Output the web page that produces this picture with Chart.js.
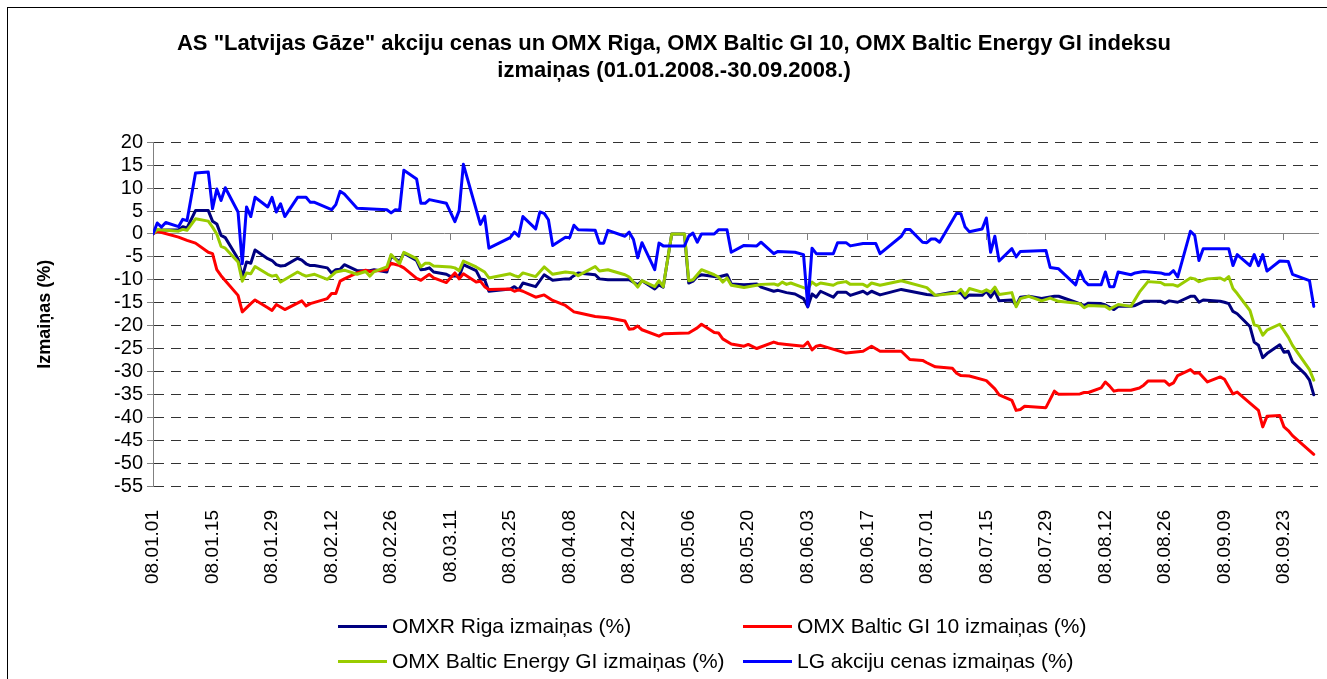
<!DOCTYPE html>
<html>
<head>
<meta charset="utf-8">
<script src="https://cdn.jsdelivr.net/npm/chart.js@4.4.1/dist/chart.umd.min.js"></script>
<style>
  html, body { margin: 0; padding: 0; background: #fff; }
  #wrap { position: relative; width: 1327px; height: 679px; overflow: hidden; font-family: "Liberation Sans", Arial, sans-serif; }
  #frame { position: absolute; left: 7px; top: 7px; width: 1500px; height: 900px; border: 1px solid #000; box-sizing: border-box; }
  #c { position: absolute; left: 0; top: 0; }
  .lg-item { position: absolute; height: 28px; display: flex; align-items: center; font-size: 21px; color: #000; white-space: nowrap; }
  .lg-line { display: inline-block; width: 49px; height: 3px; margin-right: 5px; }
</style>
</head>
<body>
<div id="wrap">
  <div id="frame"></div>
  <canvas id="c" width="1327" height="679"></canvas>
  <div id="legend"></div>
</div>
<script>
// ---- data (x = day offset from 2008-01-01, y = change in %) ----
const tickLabels = ['08.01.01','08.01.15','08.01.29','08.02.12','08.02.26','08.03.11','08.03.25','08.04.08','08.04.22','08.05.06','08.05.20','08.06.03','08.06.17','08.07.01','08.07.15','08.07.29','08.08.12','08.08.26','08.09.09','08.09.23'];
const tickStepDays = 14;
const titleLines = ['AS "Latvijas Gāze" akciju cenas un OMX Riga, OMX Baltic GI 10, OMX Baltic Energy GI indeksu', 'izmaiņas (01.01.2008.-30.09.2008.)'];
const seriesNames = ['OMXR Riga izmaiņas (%)', 'OMX Baltic GI 10 izmaiņas (%)', 'OMX Baltic Energy GI izmaiņas (%)', 'LG akciju cenas izmaiņas (%)'];

const rigaSeries = [[0,0],[1,0.8],[6,0.9],[7,1.6],[8,1.3],[10,5.1],[13,5.1],[14,2.8],[15,2.2],[16,-0.3],[17,-0.8],[20,-5.4],[21,-9.4],[22,-6.1],[23,-6.4],[24,-3.5],[27,-5.4],[28,-5.8],[29,-6.7],[30,-7.0],[31,-6.9],[34,-5.3],[35,-5.7],[36,-6.5],[37,-6.9],[38,-6.9],[41,-7.4],[42,-8.5],[43,-7.8],[44,-7.7],[45,-6.7],[48,-8.0],[51,-8.0],[52,-7.8],[55,-8.3],[56,-4.8],[58,-6.0],[59,-4.2],[62,-5.8],[63,-7.8],[64,-7.7],[65,-7.4],[66,-8.3],[69,-8.8],[70,-9.3],[71,-9.1],[72,-9.3],[73,-6.7],[76,-8.0],[77,-9.8],[78,-10.0],[79,-12.5],[84,-12.0],[85,-11.5],[86,-12.2],[87,-10.7],[90,-11.5],[92,-8.9],[94,-10.1],[97,-9.8],[98,-9.8],[99,-9.1],[100,-8.5],[104,-8.9],[105,-9.8],[107,-10.0],[112,-10.0],[114,-11.1],[115,-10.2],[118,-12.0],[119,-11.1],[120,-11.6],[122,0],[125,0],[126,-10.7],[127,-10.3],[128,-9.3],[129,-8.9],[132,-9.3],[133,-9.4],[135,-8.9],[136,-10.9],[139,-11.1],[142,-10.9],[143,-11.6],[146,-12.5],[147,-12.3],[149,-12.8],[151,-13.1],[153,-14.1],[154,-15.9],[155,-13.1],[156,-13.8],[157,-12.5],[160,-13.8],[161,-12.7],[163,-12.7],[164,-13.4],[167,-12.5],[168,-13.1],[169,-12.5],[171,-13.3],[176,-12.1],[182,-13.2],[184,-13.4],[188,-12.7],[190,-12.9],[191,-14.0],[192,-13.3],[195,-13.4],[196,-12.5],[197,-13.8],[198,-12.5],[199,-14.6],[202,-14.4],[203,-15.6],[204,-13.8],[206,-13.6],[209,-14.1],[212,-13.6],[213,-13.6],[217,-14.9],[219,-15.6],[220,-15.1],[223,-15.2],[224,-15.5],[226,-16.5],[227,-15.8],[230,-15.8],[231,-15.6],[233,-14.7],[237,-14.7],[238,-15.1],[239,-14.6],[241,-14.9],[244,-13.6],[245,-13.6],[246,-14.9],[247,-14.4],[251,-14.7],[252,-14.9],[253,-15.2],[254,-16.9],[255,-17.4],[258,-20.2],[259,-23.6],[260,-24.3],[261,-27.0],[262,-26.1],[265,-24.2],[266,-25.8],[267,-25.6],[268,-27.9],[271,-30.6],[272,-31.9],[273,-35.1]];

const gi10Series = [[0,0],[1,0.6],[6,-0.7],[8,-1.4],[10,-2.0],[13,-4.0],[14,-4.3],[15,-7.8],[16,-9.1],[20,-13.4],[21,-17.0],[23,-15.2],[24,-14.4],[27,-16.1],[28,-16.7],[29,-15.4],[31,-16.5],[35,-14.6],[36,-15.7],[37,-15.2],[41,-14.1],[42,-13.0],[43,-13.0],[44,-10.3],[45,-9.8],[48,-8.5],[50,-7.9],[51,-8.2],[55,-7.8],[56,-6.4],[58,-6.9],[59,-7.4],[62,-9.7],[63,-10.1],[65,-8.8],[66,-9.6],[69,-10.6],[71,-8.5],[72,-9.8],[73,-8.7],[76,-10.5],[77,-10.3],[78,-11.5],[79,-12.1],[84,-12.0],[85,-12.5],[86,-12.2],[87,-12.5],[90,-13.8],[92,-13.3],[94,-14.5],[97,-15.6],[98,-16.3],[99,-17.0],[100,-17.2],[104,-18.0],[107,-18.3],[111,-19.0],[112,-20.8],[113,-20.7],[114,-20.1],[115,-20.9],[119,-22.3],[120,-21.8],[126,-21.6],[128,-20.5],[129,-19.7],[132,-21.5],[133,-21.6],[134,-22.9],[136,-24.0],[139,-24.5],[140,-24.1],[142,-25.0],[146,-23.6],[147,-23.9],[149,-24.1],[153,-24.5],[154,-23.6],[155,-25.3],[156,-24.5],[157,-24.3],[163,-26.0],[167,-25.6],[169,-24.5],[171,-25.6],[176,-25.6],[178,-27.4],[181,-27.6],[182,-28.1],[184,-29.0],[188,-29.3],[189,-30.4],[190,-30.9],[192,-31.0],[196,-32.0],[198,-33.8],[199,-35.1],[202,-36.3],[203,-38.5],[204,-38.3],[205,-37.6],[210,-37.9],[212,-34.3],[213,-35.0],[218,-34.9],[219,-34.6],[220,-34.6],[223,-33.6],[224,-32.3],[225,-33.2],[226,-34.3],[227,-34.1],[230,-34.1],[232,-33.6],[233,-33.0],[234,-32.1],[238,-32.1],[239,-33.0],[240,-32.5],[241,-30.9],[244,-29.6],[245,-30.4],[246,-30.3],[248,-32.3],[251,-31.2],[252,-31.7],[254,-34.9],[255,-34.5],[258,-36.9],[260,-38.5],[261,-42.1],[262,-39.8],[265,-39.6],[266,-42.1],[267,-42.9],[268,-44.0],[273,-48.1]];

const energySeries = [[0,0],[1,1.0],[6,0.6],[7,1.0],[8,0.8],[10,3.3],[13,2.8],[14,1.5],[15,0.0],[16,-2.7],[17,-3.1],[20,-6.1],[21,-10.3],[22,-8.5],[23,-8.7],[24,-7.1],[27,-8.8],[28,-9.2],[29,-9.0],[30,-10.5],[34,-8.3],[35,-8.8],[36,-9.2],[38,-8.8],[41,-9.9],[43,-8.3],[45,-7.9],[48,-8.8],[50,-8.2],[51,-9.2],[52,-8.2],[55,-7.2],[56,-4.5],[58,-6.5],[59,-4.0],[62,-5.4],[63,-7.2],[64,-6.4],[65,-6.4],[66,-7.0],[70,-7.2],[71,-7.4],[72,-8.0],[73,-5.9],[76,-7.2],[78,-8.3],[79,-9.6],[84,-8.7],[85,-9.1],[86,-9.4],[87,-8.5],[90,-9.3],[92,-7.2],[94,-8.8],[97,-8.3],[99,-8.5],[100,-9.1],[104,-7.1],[105,-8.1],[107,-7.8],[111,-8.9],[112,-9.4],[114,-11.6],[115,-10.2],[118,-11.5],[119,-10.2],[120,-11.5],[122,0],[125,0],[126,-10.2],[127,-10.0],[129,-7.8],[132,-8.9],[133,-9.4],[134,-10.5],[135,-9.6],[136,-11.2],[139,-11.7],[142,-11.2],[143,-11.0],[146,-10.9],[147,-11.2],[148,-10.5],[149,-11.0],[150,-10.7],[153,-11.7],[154,-12.0],[155,-10.5],[156,-11.2],[157,-10.7],[160,-11.2],[161,-10.7],[163,-10.4],[164,-11.0],[167,-11.0],[168,-11.5],[169,-10.7],[171,-11.2],[176,-10.2],[182,-11.7],[184,-13.4],[189,-12.9],[190,-12.1],[191,-13.4],[192,-11.9],[195,-12.7],[196,-12.2],[197,-12.7],[198,-11.6],[199,-13.2],[202,-12.8],[203,-15.9],[204,-14.1],[206,-13.6],[209,-14.6],[211,-14.0],[213,-14.7],[218,-15.2],[219,-16.1],[220,-15.6],[224,-15.8],[225,-16.4],[227,-15.4],[230,-15.8],[232,-12.7],[234,-10.4],[237,-10.6],[238,-11.1],[240,-11.1],[241,-11.4],[244,-9.6],[245,-9.8],[246,-10.4],[248,-9.8],[251,-9.6],[252,-10.1],[253,-9.3],[254,-11.9],[255,-13.0],[258,-16.7],[259,-19.8],[260,-20.1],[261,-22.1],[262,-21.0],[265,-19.7],[267,-22.5],[268,-24.3],[272,-29.6],[273,-31.9]];

const lgSeries = [[0,0],[1,2.4],[2,1.5],[3,2.5],[6,1.6],[7,3.2],[8,2.9],[10,13.3],[13,13.5],[14,5.5],[15,9.8],[16,7.3],[17,10.1],[20,4.8],[21,-6.5],[22,5.9],[23,3.8],[24,8.0],[27,5.9],[28,8.0],[29,4.8],[30,6.6],[31,3.8],[34,8.0],[36,8.0],[37,6.9],[38,6.9],[42,5.3],[43,6.4],[44,9.3],[45,8.7],[48,5.6],[55,5.3],[56,4.6],[57,5.3],[58,5.2],[59,13.9],[62,12.0],[63,6.7],[64,6.7],[65,7.5],[69,6.7],[71,2.7],[72,5.1],[73,15.2],[77,2.1],[78,3.9],[79,-3.1],[84,-0.8],[85,0.4],[86,-0.5],[87,3.8],[90,1.1],[91,4.8],[92,4.5],[93,3.1],[94,-2.5],[97,-0.7],[98,-0.8],[99,1.9],[100,0.9],[104,0.8],[105,-2.0],[106,-2.0],[107,0.8],[111,-0.5],[112,0.4],[113,-1.2],[114,-5.2],[115,-1.9],[118,-7.8],[119,-2.0],[120,-2.6],[125,-2.6],[126,-0.5],[127,0.2],[128,-1.8],[129,0.0],[132,0.0],[133,0.9],[135,0.9],[136,-4.0],[139,-2.5],[142,-2.6],[143,-1.8],[146,-4.3],[147,-3.8],[151,-4.0],[153,-4.5],[154,-15.8],[155,-3.1],[156,-4.3],[160,-4.3],[161,-1.9],[163,-1.9],[164,-2.6],[167,-2.1],[170,-2.1],[171,-4.3],[176,-0.5],[177,1.0],[178,1.0],[181,-1.8],[182,-1.9],[183,-1.1],[184,-1.1],[185,-1.8],[189,4.5],[190,4.4],[191,1.5],[192,0.5],[195,1.1],[196,3.5],[197,-4.0],[198,-0.5],[199,-5.9],[202,-3.2],[203,-5.0],[204,-3.8],[210,-3.6],[211,-7.3],[213,-7.6],[217,-11.1],[218,-8.1],[219,-10.2],[220,-11.1],[223,-11.1],[224,-8.3],[225,-11.5],[226,-11.5],[227,-8.3],[230,-8.9],[231,-8.5],[233,-8.2],[237,-8.5],[238,-8.8],[239,-8.8],[240,-8.0],[241,-9.4],[244,0.6],[245,-0.3],[246,-5.8],[247,-3.2],[253,-3.2],[254,-6.9],[255,-4.5],[258,-6.9],[259,-4.5],[260,-6.9],[261,-4.5],[262,-8.1],[265,-5.9],[267,-6.0],[268,-8.8],[272,-10.2],[273,-15.8]];

const seriesColors = ['#000080', '#FF0000', '#99CC00', '#0000FF'];

// ---- chart ----
Chart.defaults.font.family = "'Liberation Sans', Arial, sans-serif";
Chart.defaults.color = '#000';

const toPoints = arr => arr.map(p => ({x: p[0], y: p[1]}));
const allSeries = [rigaSeries, gi10Series, energySeries, lgSeries];
const drawOrder = [3, 2, 1, 0];
const setTicks = s => { s.ticks = tickLabels.map((_, i) => ({value: i * tickStepDays})); };

const chart = new Chart(document.getElementById('c'), {
  type: 'line',
  data: {
    datasets: allSeries.map((s, i) => ({
      label: seriesNames[i],
      data: toPoints(s),
      borderColor: seriesColors[i],
      backgroundColor: seriesColors[i],
      borderWidth: 3,
      pointRadius: 0,
      tension: 0,
      fill: false,
      order: drawOrder[i],
      borderJoinStyle: 'round',
      borderCapStyle: 'round'
    }))
  },
  options: {
    responsive: false,
    animation: false,
    events: [],
    layout: { padding: { left: 30, right: 9, top: 0, bottom: 83 } },
    plugins: {
      legend: { display: false },
      tooltip: { enabled: false },
      title: {
        display: true,
        text: titleLines,
        color: '#000',
        font: { size: 22, weight: 'bold', lineHeight: 1.23 },
        padding: { top: 30.5, bottom: 57.7 }
      }
    },
    scales: {
      x: {
        type: 'linear',
        min: 0,
        max: 274,
        afterBuildTicks: setTicks,
        ticks: {
          autoSkip: false,
          minRotation: 90,
          maxRotation: 90,
          padding: 16,
          color: '#000',
          font: { size: 19 },
          callback: v => tickLabels[Math.round(v / tickStepDays)]
        },
        grid: { display: false },
        border: { display: false },
        afterFit: s => { s.height = 110; }
      },
      x0: {
        type: 'linear',
        position: { y: 0 },
        min: 0,
        max: 274,
        afterBuildTicks: setTicks,
        ticks: { display: false },
        grid: { drawOnChartArea: false, drawTicks: true, tickLength: 6, color: '#808080' },
        border: { color: '#808080', width: 1 }
      },
      y: {
        min: -55,
        max: 20,
        ticks: { stepSize: 5, autoSkip: false, color: '#000', font: { size: 20 }, padding: 4 },
        grid: {
          color: ctx => (ctx.tick && ctx.tick.value === 0) ? 'rgba(0,0,0,0)' : '#333333',
          lineWidth: 1,
          tickLength: 6,
          tickColor: '#808080',
          tickBorderDash: []
        },
        border: { color: '#808080', width: 1, dash: [10, 7] },
        title: {
          display: true,
          text: 'Izmaiņas (%)',
          color: '#000',
          font: { size: 18, weight: 'bold' },
          padding: { top: 4, bottom: 0 }
        },
        afterFit: s => { s.width = 123; }
      }
    }
  }
});

// ---- legend (2 x 2 grid, like the original) ----
const legendCols = [338, 743];
const legendRows = [626, 661];
const legendEl = document.getElementById('legend');
chart.data.datasets.forEach((ds, i) => {
  const item = document.createElement('div');
  item.className = 'lg-item';
  item.style.left = legendCols[i % 2] + 'px';
  item.style.top = (legendRows[Math.floor(i / 2)] - 14) + 'px';
  const line = document.createElement('span');
  line.className = 'lg-line';
  line.style.background = ds.borderColor;
  const txt = document.createElement('span');
  txt.textContent = ds.label;
  item.appendChild(line);
  item.appendChild(txt);
  legendEl.appendChild(item);
});
</script>
</body>
</html>
